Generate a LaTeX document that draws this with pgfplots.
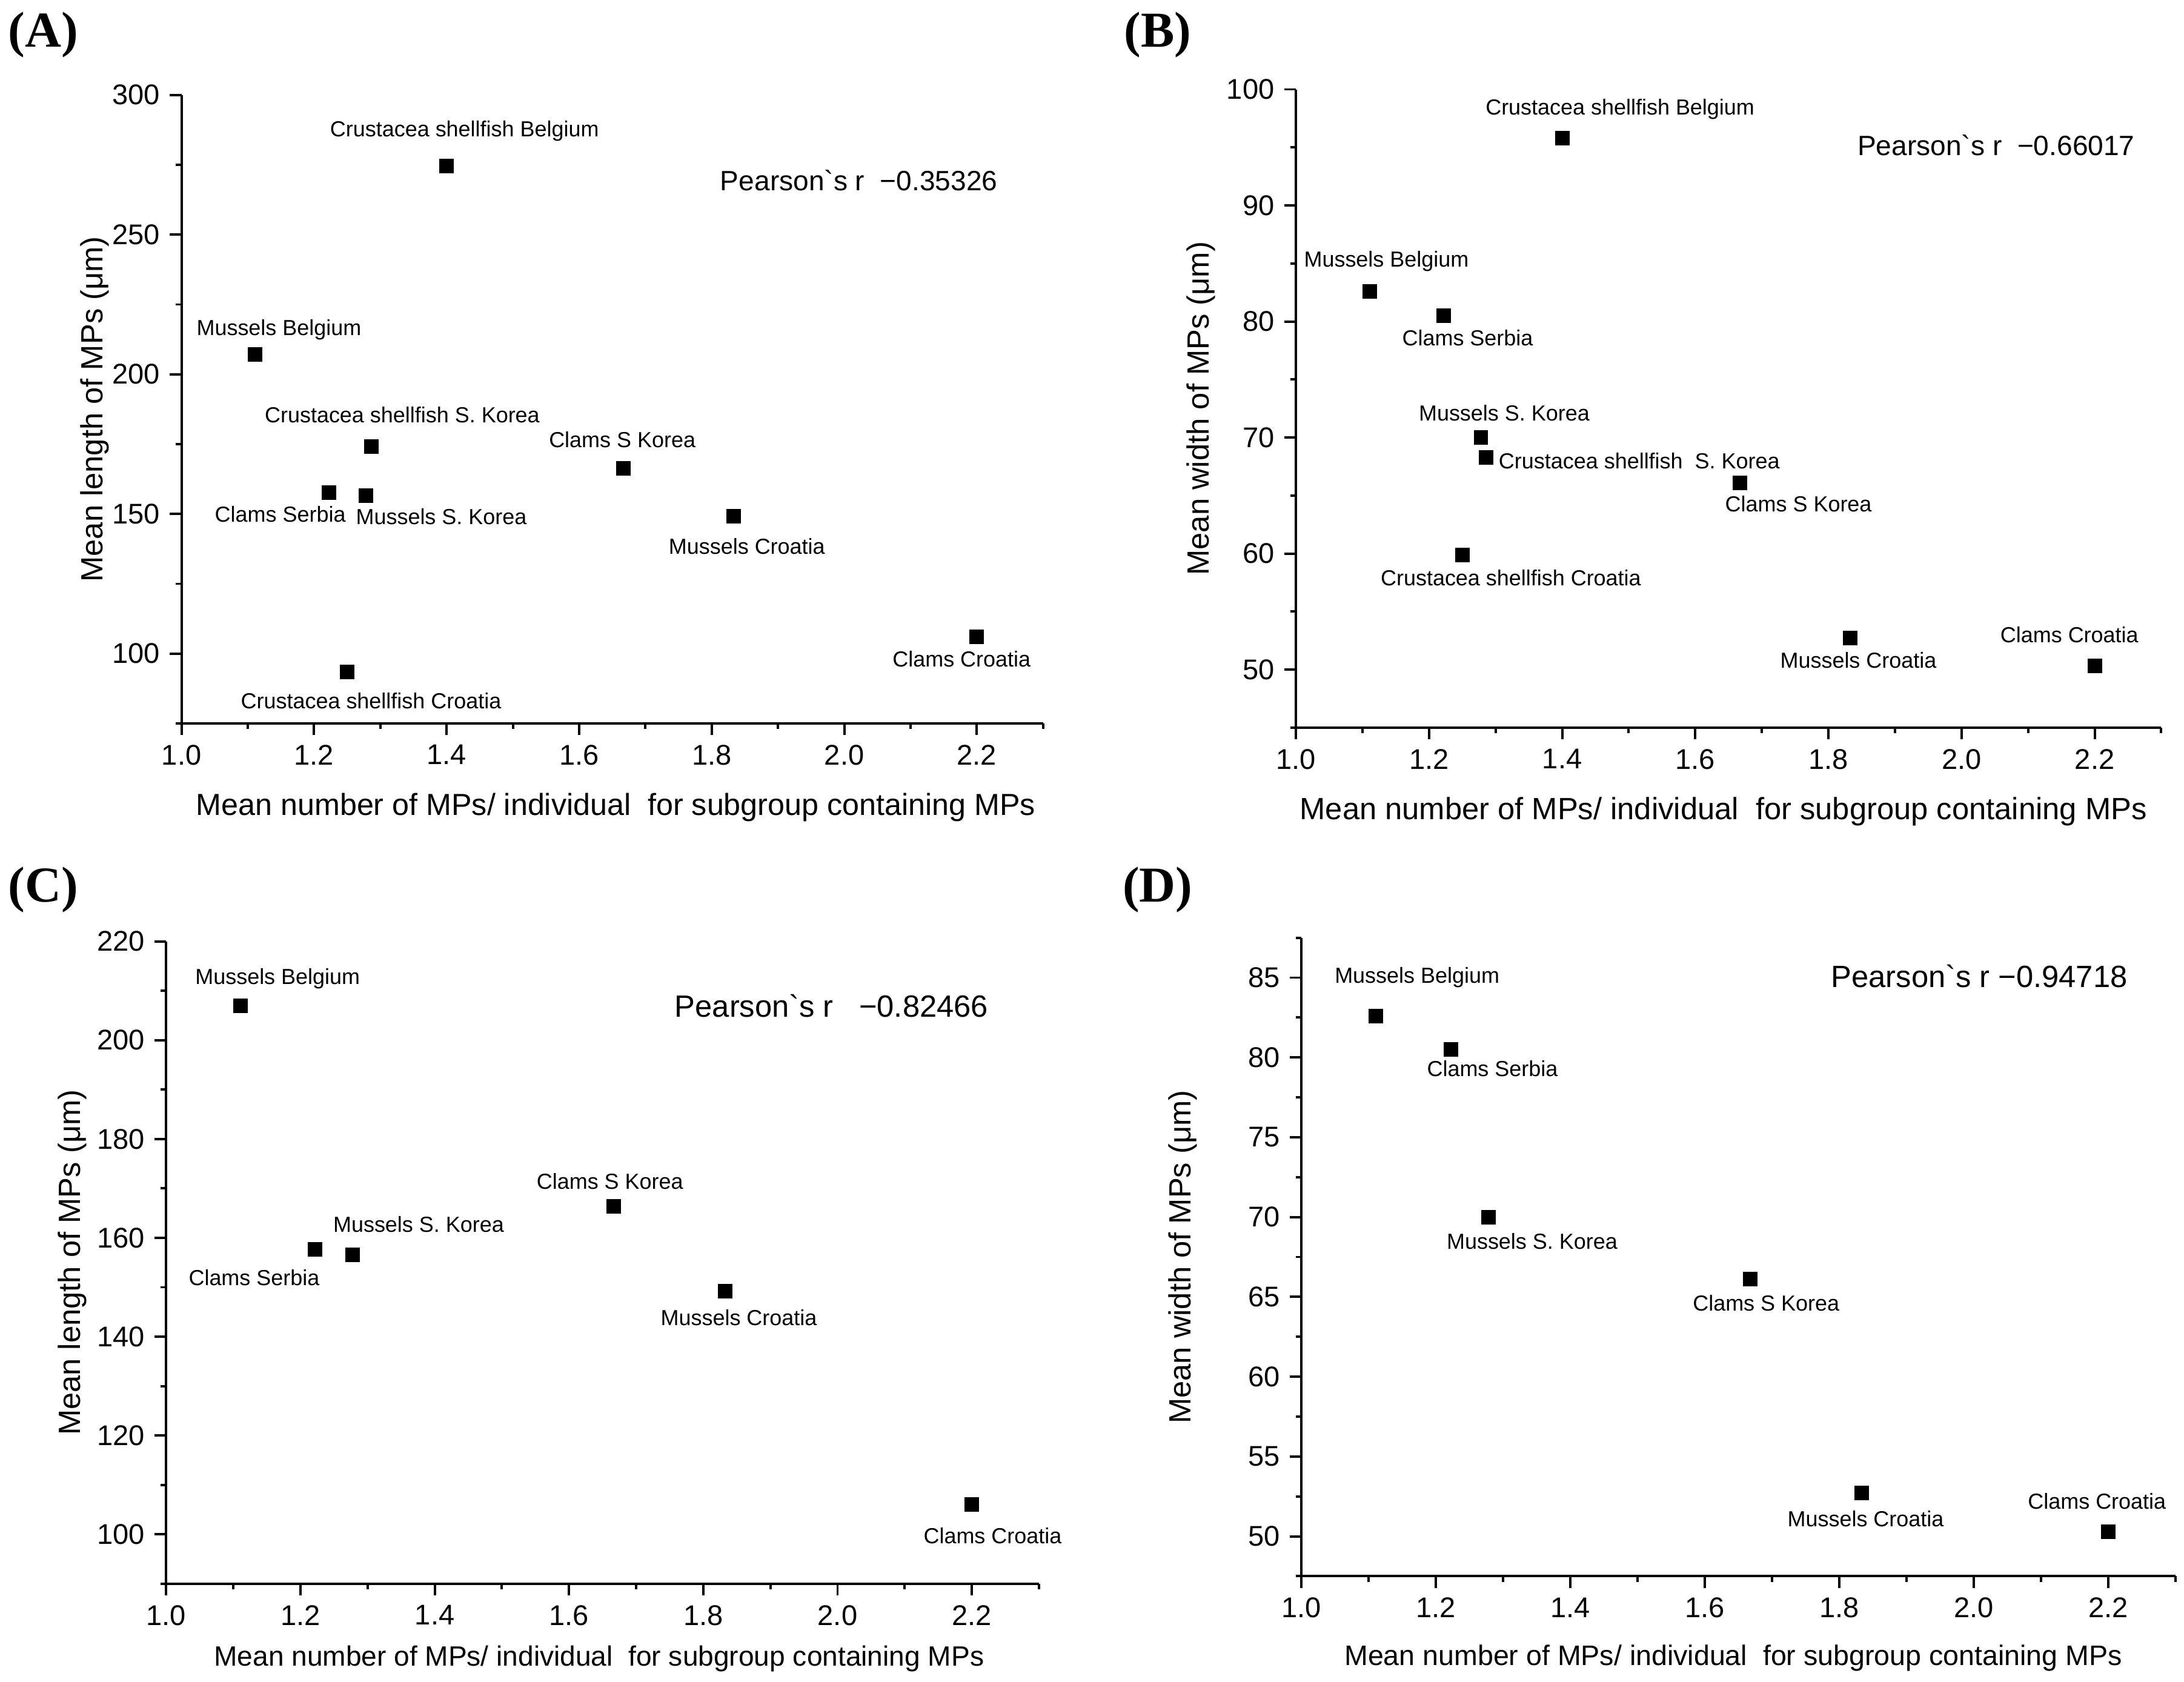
\documentclass[border=0pt]{standalone}
\usepackage{fontspec}
\setmainfont{Liberation Sans}
\newfontfamily\plainsans{Liberation Sans}[Ligatures=TeXOff]
\newfontfamily\panelfont{Liberation Serif}
\usepackage{pgfplots}
\usepackage{pgfplotstable}
\pgfplotsset{compat=1.18}

% x = mean number of MPs per individual, len/wid = mean length/width (um)
\pgfplotstableread{
x     len    wid
1.111 207.0  82.6
1.222 157.7  80.5
1.250  93.5  59.9
1.278 156.6  70.0
1.286 174.2  68.3
1.400 274.6  95.8
1.667 166.4  66.1
1.833 149.2  52.7
2.200 106.0  50.3
}\alldata

\pgfplotstableread{
x     len    wid
1.111 207.0  82.6
1.222 157.7  80.5
1.278 156.6  70.0
1.667 166.4  66.1
1.833 149.2  52.7
2.200 106.0  50.3
}\subdata

\pgfplotsset{
  panel/.style={
    scale only axis, clip=false,
    axis lines*=left,
    axis line style={line width=0.85pt},
    tick align=outside,
    major tick length=4.2pt, minor tick length=2pt,
    tick style={black, line width=0.85pt},
    xmin=1, xmax=2.3,
    xtick={1.0,1.2,1.4,1.6,1.8,2.0,2.2},
    minor xtick={1.1,1.3,1.5,1.7,1.9,2.1,2.3},
    xticklabel style={/pgf/number format/.cd, fixed, fixed zerofill, precision=1},
    /pgf/number format/assume math mode=true,
    tick label style={font=\fontsize{10.2}{12}\selectfont},
    ylabel style={font=\fontsize{11}{13}\selectfont, anchor=center},
    xlabel style={anchor=center},
    xlabel={Mean number of MPs/ individual \ for subgroup containing MPs},
  },
  mk/.style={only marks, mark=square*, mark size=2.4pt, black},
}
\tikzset{
  lab/.style={font=\fontsize{7.8}{9}\selectfont, inner sep=0pt, anchor=center},
  pear/.style={inner sep=0pt, anchor=center},
  letter/.style={font=\panelfont\bfseries\fontsize{18}{20}\selectfont, inner sep=0pt},
}

\begin{document}
\begin{tikzpicture}
\useasboundingbox (0,0) rectangle (782pt,-602pt);

% (A)
\begin{axis}[panel, at={(65pt,-259pt)}, anchor=south west,
  width=308.5pt, height=225pt,
  ymin=75, ymax=300, ytick={100,150,200,250,300},
  minor ytick={75,125,175,225,275},
  ylabel={Mean length of MPs (μm)},
  ylabel style={at={(axis description cs:-0.1005,0.5)}},
  xlabel style={at={(axis description cs:0.504,-0.1333)}, font=\fontsize{10.9}{13}\selectfont}]
\addplot[mk] table[x=x, y=len] {\alldata};
\node[lab] at (axis cs:1.427,287) {Crustacea shellfish Belgium};
\node[lab] at (axis cs:1.147,216) {Mussels Belgium};
\node[lab] at (axis cs:1.333,185.5) {Crustacea shellfish S. Korea};
\node[lab] at (axis cs:1.665,176.5) {Clams S Korea};
\node[lab] at (axis cs:1.149,150) {Clams Serbia};
\node[lab] at (axis cs:1.392,149) {Mussels S. Korea};
\node[lab] at (axis cs:1.853,138.5) {Mussels Croatia};
\node[lab] at (axis cs:2.177,98) {Clams Croatia};
\node[lab] at (axis cs:1.286,83) {Crustacea shellfish Croatia};
\node[pear] at (axis cs:2.022,269.5) {\plainsans\fontsize{10}{12}\selectfont Pearson`s r\ \ −0.35326};
\end{axis}

% (B)
\begin{axis}[panel, at={(464pt,-260.5pt)}, anchor=south west,
  width=309.85pt, height=228.5pt,
  ymin=45, ymax=100, ytick={50,60,70,80,90,100},
  minor ytick={45,55,65,75,85,95},
  ylabel={Mean width of MPs (μm)},
  ylabel style={at={(axis description cs:-0.1097,0.5)}},
  xlabel style={at={(axis description cs:0.494,-0.131)}, font=\fontsize{11}{13}\selectfont}]
\addplot[mk] table[x=x, y=wid] {\alldata};
\node[lab] at (axis cs:1.487,98.3) {Crustacea shellfish Belgium};
\node[lab] at (axis cs:1.136,85.2) {Mussels Belgium};
\node[lab] at (axis cs:1.258,78.6) {Clams Serbia};
\node[lab] at (axis cs:1.313,72.1) {Mussels S. Korea};
\node[lab, anchor=west] at (axis cs:1.304,68.0) {Crustacea shellfish \ S. Korea};
\node[lab] at (axis cs:1.755,64.3) {Clams S Korea};
\node[lab] at (axis cs:1.323,57.9) {Crustacea shellfish Croatia};
\node[lab] at (axis cs:1.845,50.8) {Mussels Croatia};
\node[lab] at (axis cs:2.162,53.0) {Clams Croatia};
\node[pear] at (axis cs:2.052,95.2) {\plainsans\fontsize{10}{12}\selectfont Pearson`s r\ \ −0.66017};
\end{axis}

% (C)
\begin{axis}[panel, at={(59.5pt,-567pt)}, anchor=south west,
  width=312.5pt, height=230pt,
  ymin=90, ymax=220, ytick={100,120,140,160,180,200,220},
  minor ytick={90,110,130,150,170,190,210},
  ylabel={Mean length of MPs (μm)},
  ylabel style={at={(axis description cs:-0.1072,0.5)}},
  xlabel style={at={(axis description cs:0.496,-0.117)}, font=\fontsize{10}{12}\selectfont}]
\addplot[mk] table[x=x, y=len] {\subdata};
\node[lab] at (axis cs:1.166,212.4) {Mussels Belgium};
\node[lab] at (axis cs:1.131,152) {Clams Serbia};
\node[lab] at (axis cs:1.376,162.7) {Mussels S. Korea};
\node[lab] at (axis cs:1.661,171.4) {Clams S Korea};
\node[lab] at (axis cs:1.853,143.8) {Mussels Croatia};
\node[lab] at (axis cs:2.231,99.7) {Clams Croatia};
\node[pear] at (axis cs:1.991,207) {\plainsans\fontsize{11}{13}\selectfont Pearson`s r\ \ \ −0.82466};
\end{axis}

% (D)
\begin{axis}[panel, at={(466pt,-564.3pt)}, anchor=south west,
  width=313pt, height=228.6pt,
  ymin=47.5, ymax=87.5, ytick={50,55,60,65,70,75,80,85},
  minor ytick={47.5,52.5,57.5,62.5,67.5,72.5,77.5,82.5,87.5},
  ylabel={Mean width of MPs (μm)},
  ylabel style={at={(axis description cs:-0.1358,0.5)}},
  xlabel style={at={(axis description cs:0.494,-0.128)}, font=\fontsize{10.1}{12}\selectfont}]
\addplot[mk] table[x=x, y=wid] {\subdata};
\node[lab] at (axis cs:1.172,85.0) {Mussels Belgium};
\node[lab] at (axis cs:1.284,79.3) {Clams Serbia};
\node[lab] at (axis cs:1.343,68.5) {Mussels S. Korea};
\node[lab] at (axis cs:1.691,64.6) {Clams S Korea};
\node[lab] at (axis cs:1.839,51.1) {Mussels Croatia};
\node[lab] at (axis cs:2.183,52.2) {Clams Croatia};
\node[pear] at (axis cs:2.008,85.1) {\plainsans\fontsize{11}{13}\selectfont Pearson`s r −0.94718};
\end{axis}

% panel letters
\node[letter] at (15.5pt,-12.5pt) {(A)};
\node[letter] at (414.5pt,-12.5pt) {(B)};
\node[letter] at (15.5pt,-318.5pt) {(C)};
\node[letter] at (414.5pt,-318.5pt) {(D)};
\end{tikzpicture}
\end{document}
